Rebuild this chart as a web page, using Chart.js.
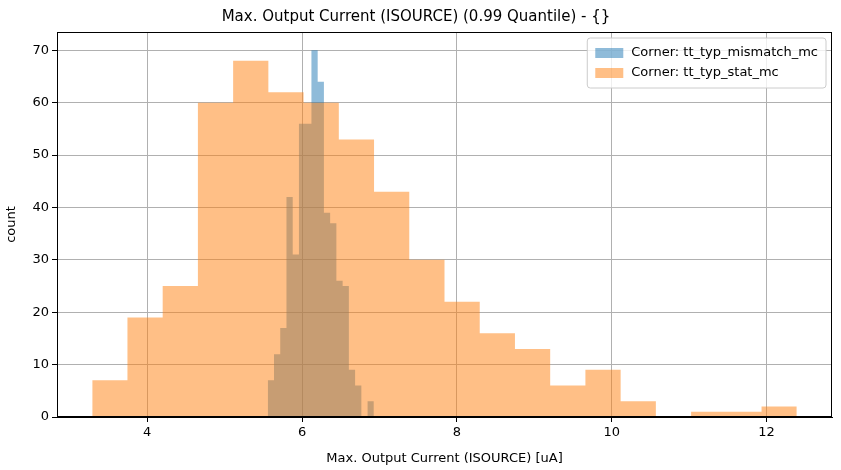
<!DOCTYPE html>
<html><head><script src="https://cdn.jsdelivr.net/npm/chart.js@4"></script>
<style>body{margin:0;background:#fff}#w{width:841px;height:470px}</style></head>
<body><div id="w"><canvas id="c"></canvas></div>
<script>
const mismatchStart = 5.557, mismatchWidth = 0.0806;
const mismatchCounts = [7,12,17,42,31,56,56,70,64,39,37,26,25,9,6,0,3];
const statStart = 3.29, statWidth = 0.455;
const statCounts = [7,19,25,60,68,62,60,53,43,30,22,16,13,6,9,3,0,1,1,2];
const xTicks = [4,6,8,10,12];
const labels = ['Corner: tt_typ_mismatch_mc','Corner: tt_typ_stat_mc'];
const colors = ['rgba(31,119,180,0.5)','rgba(255,127,14,0.5)'];

function steps(start, w, counts){
  const pts=[{x:start,y:0}];
  counts.forEach((c,i)=>{pts.push({x:start+i*w,y:c});pts.push({x:start+(i+1)*w,y:c});});
  pts.push({x:start+counts.length*w,y:0});
  return pts;
}
const font = {family:'DejaVu Sans', size:13};
const legendPlugin = {id:'lg', afterDraw(ch){
  const c=ch.ctx, a=ch.chartArea;
  c.save(); c.font='13px DejaVu Sans';
  const tw=Math.max(...labels.map(l=>c.measureText(l).width));
  const bw=tw+52, bh=50, x0=a.right-bw-6, y0=a.top+6;
  c.fillStyle='rgba(255,255,255,0.8)'; c.strokeStyle='#ccc'; c.lineWidth=1;
  c.beginPath(); c.roundRect(x0,y0,bw,bh,3); c.fill(); c.stroke();
  labels.forEach((l,i)=>{
    const y=y0+15+i*20;
    c.fillStyle=colors[i]; c.fillRect(x0+8,y-5,28,10);
    c.fillStyle='#000'; c.textBaseline='middle'; c.fillText(l,x0+44,y);
  });
  c.strokeStyle='#000'; c.lineWidth=1; c.strokeRect(a.left+0.5,a.top+0.5,a.right-a.left-1,a.bottom-a.top-1);
  c.restore();
}};
new Chart(document.getElementById('c'),{
  type:'line',
  data:{datasets:[
    {label:labels[0],order:2,data:steps(mismatchStart,mismatchWidth,mismatchCounts),fill:'origin',backgroundColor:colors[0],borderWidth:0,pointRadius:0,tension:0},
    {label:labels[1],order:1,data:steps(statStart,statWidth,statCounts),fill:'origin',backgroundColor:colors[1],borderWidth:0,pointRadius:0,tension:0}
  ]},
  options:{animation:false,responsive:true,maintainAspectRatio:false,
    layout:{padding:{right:9}},
    plugins:{legend:{display:false},tooltip:{enabled:false},
      title:{display:true,text:'Max. Output Current (ISOURCE) (0.99 Quantile) - {}',color:'#000',font:{family:'DejaVu Sans',size:15,weight:'normal'},padding:{top:8,bottom:6}}},
    scales:{
      x:{type:'linear',min:2.835,max:12.845,afterFit(s){s.height=53;},
        afterBuildTicks(s){s.ticks=xTicks.map(v=>({value:v}));},
        title:{display:true,text:'Max. Output Current (ISOURCE) [uA]',color:'#000',font},
        ticks:{color:'#000',font,maxRotation:0},grid:{color:'#b0b0b0',tickColor:'#000',tickLength:5},border:{color:'#000'}},
      y:{min:0,max:73.5,afterFit(s){s.width=57;},
        afterBuildTicks(s){s.ticks=[0,10,20,30,40,50,60,70].map(v=>({value:v}));},
        title:{display:true,text:'count',color:'#000',font},
        ticks:{color:'#000',font},grid:{color:'#b0b0b0',tickColor:'#000',tickLength:5},border:{color:'#000'}}
    }},
  plugins:[legendPlugin]
});
</script></body></html>
